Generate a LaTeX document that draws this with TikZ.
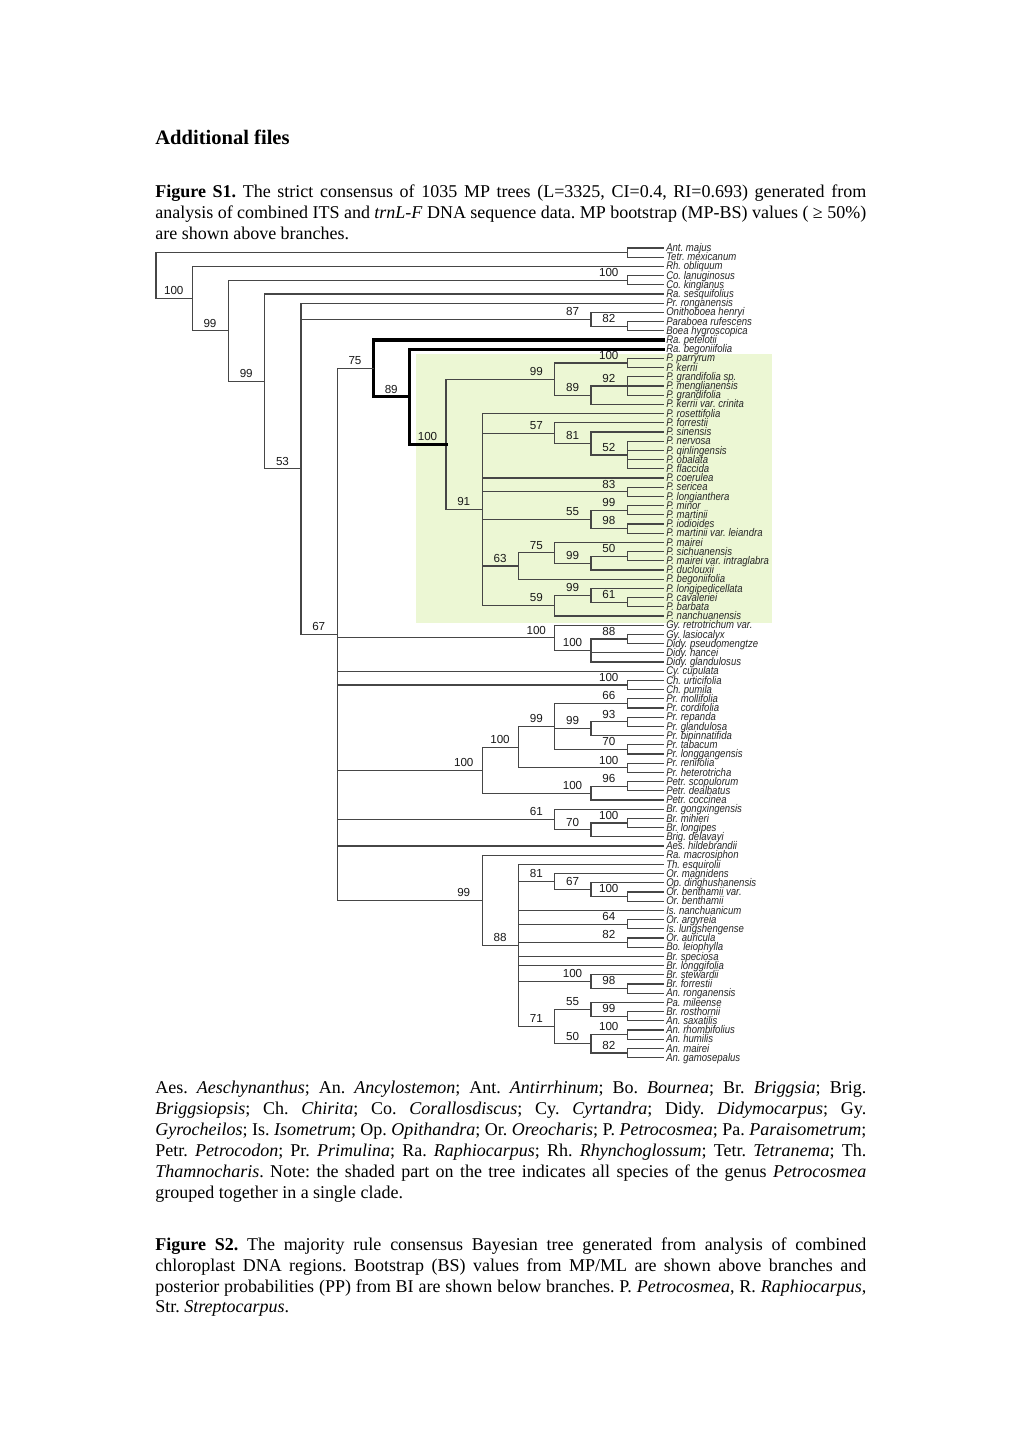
\documentclass[tikz,border=0pt]{standalone}
\usepackage{fontspec}
\setmainfont{Liberation Serif}
\newfontfamily\arialf{Liberation Sans}
\newfontfamily\narrowf[FakeStretch=0.86]{Liberation Sans}
\usetikzlibrary{calc}
\definecolor{lin}{RGB}{70,70,70}
\definecolor{shadegreen}{RGB}{236,247,212}
\newcommand\clade[6][br]{%
  \coordinate (#2m) at ($(#4)!0.5!(#5)$);
  \coordinate (#2) at (X#3 |- #2m);
  \draw[#1] (#2 |- #4) -- (#2 |- #5);
  \foreach \c in {#6} {\draw[#1] (#2 |- \c) -- (\c);}%
}
\begin{document}
\frenchspacing
\begin{tikzpicture}[x=0.5836pt, y=-0.5836pt,
  br/.style={draw=lin, line width=0.65pt, line cap=rect},
  thk/.style={draw=black, line width=1.9pt, line cap=rect},
  leaf/.style={font=\narrowf\itshape\fontsize{6.5}{7}\selectfont, anchor=base west, inner sep=0pt, text=black!85},
  bs/.style={font=\arialf\fontsize{6.8}{7}\selectfont, anchor=south, inner sep=0pt, xshift=-10.8pt, yshift=1.9pt, text=black!90},
  txt/.style={anchor=base west, inner sep=0pt, font=\fontsize{10.5}{12.25}\selectfont}]
\fill[white] (0,0) rectangle (1020,1443);
\useasboundingbox (0,0) rectangle (1020,1443);
% shaded Petrocosmea clade
\fill[shadegreen] (416,353.5) rectangle (771.5,622.5);
% level coordinates
\foreach \k in {0,...,14} {\coordinate (X\k) at ({156+36.25*\k},0);}
% leaves
\foreach \nm [count=\i] in {Ant. majus, Tetr. mexicanum, Rh. obliquum, Co. lanuginosus, Co. kingianus, Ra. sesquifolius, Pr. ronganensis, Onithoboea henryi, Paraboea rufescens, Boea hygroscopica, Ra. petelotii, Ra. begoniifolia, P. parryrum, P. kerrii, P. grandifolia sp., P. menglianensis, P. grandifolia, P. kerrii var. crinita, P. rosettifolia, P. forrestii, P. sinensis, P. nervosa, P. qinlingensis, P. obalata, P. flaccida, P. coerulea, P. sericea, P. longianthera, P. minor, P. martinii, P. iodioides, P. martinii var. leiandra, P. mairei, P. sichuanensis, P. mairei var. intraglabra, P. duclouxii, P. begoniifolia, P. longipedicellata, P. cavaleriei, P. barbata, P. nanchuanensis, Gy. retrotrichum var., Gy. lasiocalyx, Didy. pseudomengtze, Didy. hancei, Didy. glandulosus, Cy. cupulata, Ch. urticifolia, Ch. pumila, Pr. mollifolia, Pr. cordifolia, Pr. repanda, Pr. glandulosa, Pr. bipinnatifida, Pr. tabacum, Pr. longgangensis, Pr. renifolia, Pr. heterotricha, Petr. scopulorum, Petr. dealbatus, Petr. coccinea, Br. gongxingensis, Br. mihieri, Br. longipes, Brig. delavayi, Aes. hildebrandii, Ra. macrosiphon, Th. esquirolii, Or. magnidens, Op. dinghushanensis, Or. benthamii var., Or. benthamii, Is. nanchuanicum, Or. argyreia, Is. lungshengense, Or. auricula, Bo. leiophylla, Br. speciosa, Br. longgifolia, Br. stewardii, Br. forrestii, An. ronganensis, Pa. mileense, Br. rosthornii, An. saxatilis, An. rhombifolius, An. humilis, An. mairei, An. gamosepalus}
{\coordinate (e\i) at (663.5,{248+9.2*(\i-1)});
 \node[leaf] (t\i) at ([xshift=1.4pt,yshift=-2.1pt]e\i) {\nm};}
% clades (children first)
\clade{c1}{13}{e1}{e2}{e1,e2}
\clade{Co}{13}{e4}{e5}{e4,e5}
\clade{N82}{13}{e9}{e10}{e9,e10}
\clade{N87}{12}{e8}{N82}{e8,N82}
\clade{p100a}{13}{e13}{e14}{e13,e14}
\clade{p92}{13}{e15}{e17}{e15,e16,e17}
\clade{p89}{12}{p92}{e18}{p92,e18}
\clade{p99}{11}{p100a}{p89}{p100a,p89}
\clade{p52}{13}{e22}{e25}{e22,e23,e24,e25}
\clade{p81}{12}{e21}{p52}{e21,p52}
\clade{p57}{11}{e20}{p81}{e20,p81}
\clade{p83}{13}{e27}{e28}{e27,e28}
\clade{p99c}{13}{e29}{e30}{e29,e30}
\clade{p98}{13}{e31}{e32}{e31,e32}
\clade{p55}{12}{p99c}{p98}{p99c,p98}
\clade{p50}{13}{e34}{e35}{e34,e35}
\clade{p99b}{12}{p50}{e36}{p50,e36}
\clade{p75}{11}{e33}{p99b}{e33,p99b}
\clade{p63}{10}{p75}{e37}{p75,e37}
\clade{p61}{13}{e39}{e40}{e39,e40}
\clade{p99d}{12}{e38}{p61}{e38,p61}
\clade{p59}{11}{p99d}{e41}{p99d,e41}
\clade{p91}{9}{e19}{p59}{e19,p57,e26,p83,p55,p63,p59}
\clade{b100}{8}{p99}{p91}{p99,p91}
\clade[thk]{b89}{7}{e12}{b100}{e12,b100}
\clade[thk]{b75}{6}{e11}{b89}{e11,b89}
\clade{g88}{13}{e43}{e44}{e43,e44}
\clade{g100b}{12}{g88}{e46}{g88,e45,e46}
\clade{g100}{11}{e42}{g100b}{e42,g100b}
\clade{ch}{13}{e48}{e49}{e48,e49}
\clade{r66}{13}{e50}{e51}{e50,e51}
\clade{r93}{13}{e52}{e53}{e52,e53}
\clade{r99b}{12}{r93}{e54}{r93,e54}
\clade{r70}{13}{e55}{e56}{e55,e56}
\clade{r99}{11}{r66}{r70}{r66,r99b,r70}
\clade{r100c}{13}{e57}{e58}{e57,e58}
\clade{r100b}{10}{r99}{r100c}{r99,r100c}
\clade{t96}{13}{e59}{e60}{e59,e60}
\clade{t100}{12}{t96}{e61}{t96,e61}
\clade{r100}{9}{r100b}{t100}{r100b,t100}
\clade{k100}{13}{e63}{e64}{e63,e64}
\clade{k70}{12}{k100}{e65}{k100,e65}
\clade{k61}{11}{e62}{k70}{e62,k70}
\clade{o100b}{13}{e71}{e72}{e71,e72}
\clade{o67}{12}{e70}{o100b}{e70,o100b}
\clade{o81}{11}{e69}{o67}{e69,o67}
\clade{o64}{13}{e74}{e75}{e74,e75}
\clade{o82}{13}{e76}{e77}{e76,e77}
\clade{o98}{13}{e81}{e82}{e81,e82}
\clade{o100}{12}{e80}{o98}{e80,o98}
\clade{o99c}{13}{e84}{e85}{e84,e85}
\clade{o55}{12}{e83}{o99c}{e83,o99c}
\clade{o100c}{13}{e86}{e87}{e86,e87}
\clade{o82b}{13}{e88}{e89}{e88,e89}
\clade{o50}{12}{o100c}{o82b}{o100c,o82b}
\clade{o71}{11}{o55}{o50}{o55,o50}
\clade{o88}{10}{e68}{o71}{e68,o81,e73,o64,o82,e78,e79,o100,o71}
\clade{o99}{9}{e67}{o88}{e67,o88}
\clade{a5}{5}{b75}{o99}{b75,g100,e47,ch,r100,k61,e66,o99}
\clade{a4}{4}{e7}{a5}{e7,N87,a5}
\clade{a3}{3}{e6}{a4}{e6,a4}
\clade{a2}{2}{Co}{a3}{Co,a3}
\clade{a1}{1}{e3}{a2}{e3,a2}
\clade{root}{0}{c1}{a1}{c1,a1}
% bootstrap labels
\foreach \n/\v in {a1/100, a2/99, a3/99, a4/53, a5/67, Co/100, N82/82, N87/87, b75/75, b89/89, b100/100, p99/99, p100a/100, p89/89, p92/92, p57/57, p81/81, p52/52, p91/91, p83/83, p55/55, p99c/99, p98/98, p63/63, p75/75, p99b/99, p50/50, p59/59, p99d/99, p61/61, g100/100, g100b/100, g88/88, ch/100, r66/66, r99/99, r99b/99, r93/93, r70/70, r100b/100, r100/100, r100c/100, t100/100, t96/96, k61/61, k70/70, k100/100, o99/99, o81/81, o67/67, o100b/100, o88/88, o64/64, o82/82, o100/100, o98/98, o71/71, o55/55, o99c/99, o50/50, o100c/100, o82b/82}
{\node[bs] (lab-\n) at (\n) {\v};}
% texts
\node[anchor=base west, inner sep=0pt, font=\bfseries\fontsize{12}{14}\selectfont] (title) at (155,145) {Additional files};
\node[txt] (s1a) at (155,198) {\makebox[414.9pt][s]{\textbf{Figure S1.} The strict consensus of 1035 MP trees (L=3325, CI=0.4, RI=0.693) generated from}};
\node[txt] (s1b) at (155,219) {\makebox[414.9pt][s]{analysis of combined ITS and \textit{trnL-F} DNA sequence data. MP bootstrap (MP-BS) values ( ≥ 50\%)}};
\node[txt] (s1c) at (155,240) {are shown above branches.};
\node[txt] (c1l) at (155,1093) {\makebox[414.9pt][s]{Aes. \textit{Aeschynanthus}; An. \textit{Ancylostemon}; Ant. \textit{Antirrhinum}; Bo. \textit{Bournea}; Br. \textit{Briggsia}; Brig.}};
\node[txt] (c2l) at (155,1114) {\makebox[414.9pt][s]{\textit{Briggsiopsis}; Ch. \textit{Chirita}; Co. \textit{Corallosdiscus}; Cy. \textit{Cyrtandra}; Didy. \textit{Didymocarpus}; Gy.}};
\node[txt] (c3l) at (155,1135) {\makebox[414.9pt][s]{\textit{Gyrocheilos}; Is. \textit{Isometrum}; Op. \textit{Opithandra}; Or. \textit{Oreocharis}; P. \textit{Petrocosmea}; Pa. \textit{Paraisometrum};}};
\node[txt] (c4l) at (155,1156) {\makebox[414.9pt][s]{Petr. \textit{Petrocodon}; Pr. \textit{Primulina}; Ra. \textit{Raphiocarpus}; Rh. \textit{Rhynchoglossum}; Tetr. \textit{Tetranema}; Th.}};
\node[txt] (c5l) at (155,1177) {\makebox[414.9pt][s]{\textit{Thamnocharis}. Note: the shaded part on the tree indicates all species of the genus \textit{Petrocosmea}}};
\node[txt] (c6l) at (155,1198) {grouped together in a single clade.};
\node[txt] (s2a) at (155,1250) {\makebox[414.9pt][s]{\textbf{Figure S2.} The majority rule consensus Bayesian tree generated from analysis of combined}};
\node[txt] (s2b) at (155,1271) {\makebox[414.9pt][s]{chloroplast DNA regions. Bootstrap (BS) values from MP/ML are shown above branches and}};
\node[txt] (s2c) at (155,1292) {\makebox[414.9pt][s]{posterior probabilities (PP) from BI are shown below branches. P. \textit{Petrocosmea}, R. \textit{Raphiocarpus},}};
\node[txt] (s2d) at (155,1312) {Str. \textit{Streptocarpus}.};
\end{tikzpicture}
\end{document}
